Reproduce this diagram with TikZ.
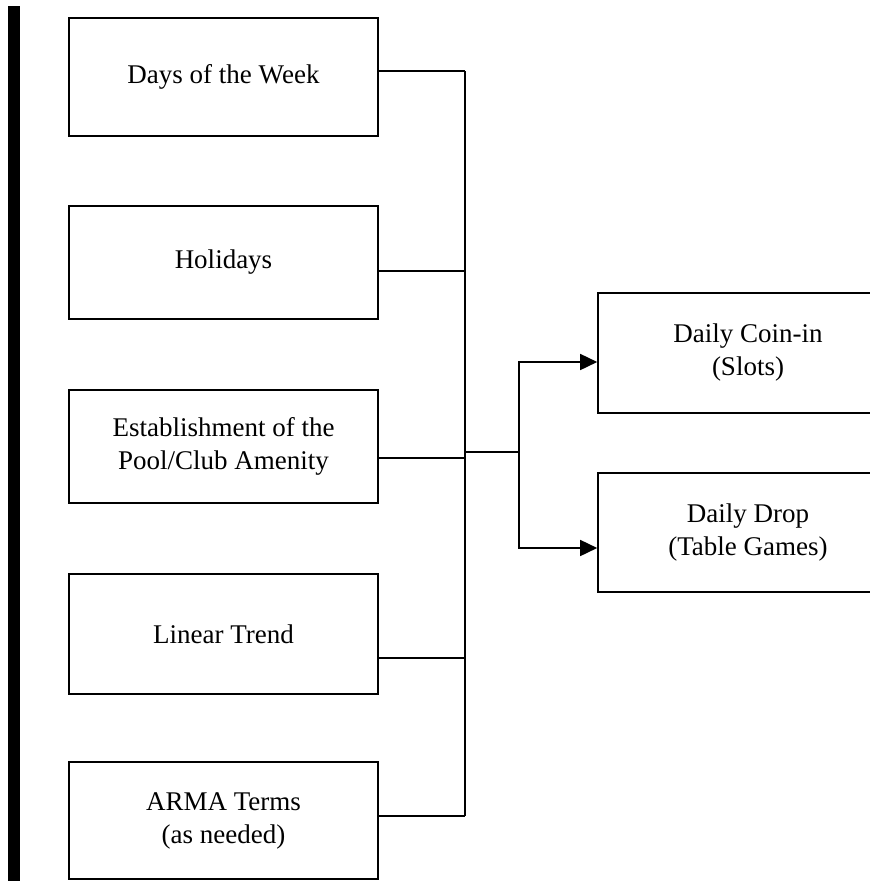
\documentclass[tikz,border=0pt]{standalone}
\usepackage{fontspec}
\setmainfont{Liberation Serif}
\usetikzlibrary{positioning, arrows.meta}

\begin{document}
\begin{tikzpicture}[x=1pt, y=-1pt,
    box/.style={draw, line width=1.6pt, minimum width=309pt, minimum height=116pt,
                align=center, inner sep=0pt, font=\fontsize{27}{33}\selectfont},
    link/.style={line width=1.6pt}]
    \clip (0,0) rectangle (870,881);

    % Bar at the left
    \fill (8,6) rectangle (20,881);

    % Inputs
    \node[box, minimum height=118pt] (week) at (223.5,77) {Days of the Week};
    \node[box, minimum height=113pt] (holidays) at (223.5,262.5) {Holidays};
    \node[box, minimum height=113pt] (pool) at (223.5,446.5) {Establishment of the\\Pool/Club Amenity};
    \node[box, minimum height=120pt] (trend) at (223.5,634) {Linear Trend};
    \node[box, minimum height=117pt] (arma) at (223.5,820.5) {ARMA Terms\\(as needed)};

    % Outputs
    \node[box, minimum width=300pt, minimum height=120pt] (coin) at (748,353) {Daily Coin-in\\(Slots)};
    \node[box, minimum width=300pt, minimum height=119pt] (drop) at (748,532.5) {Daily Drop\\(Table Games)};

    % Bus
    \coordinate (b1) at (465,71);
    \coordinate (b2) at (465,271);
    \coordinate (b3) at (465,458);
    \coordinate (b4) at (465,658);
    \coordinate (b5) at (465,816);
    \draw[link] (week.east |- b1) -- (b1);
    \draw[link] (holidays.east |- b2) -- (b2);
    \draw[link] (pool.east |- b3) -- (b3);
    \draw[link] (trend.east |- b4) -- (b4);
    \draw[link] (arma.east |- b5) -- (b5);
    \draw[link] (b1) -- (b5);

    % Split to the outputs
    \coordinate (m) at (465,452);
    \coordinate (s) at (519,452);
    \coordinate (t1) at (519,362);
    \coordinate (t2) at (519,548);
    \draw[link] (m) -- (s);
    \draw[link, -{Triangle[length=17pt, width=16pt]}] (s) -- (t1) -- (coin.west |- t1);
    \draw[link, -{Triangle[length=17pt, width=16pt]}] (s) -- (t2) -- (drop.west |- t2);
\end{tikzpicture}
\end{document}
